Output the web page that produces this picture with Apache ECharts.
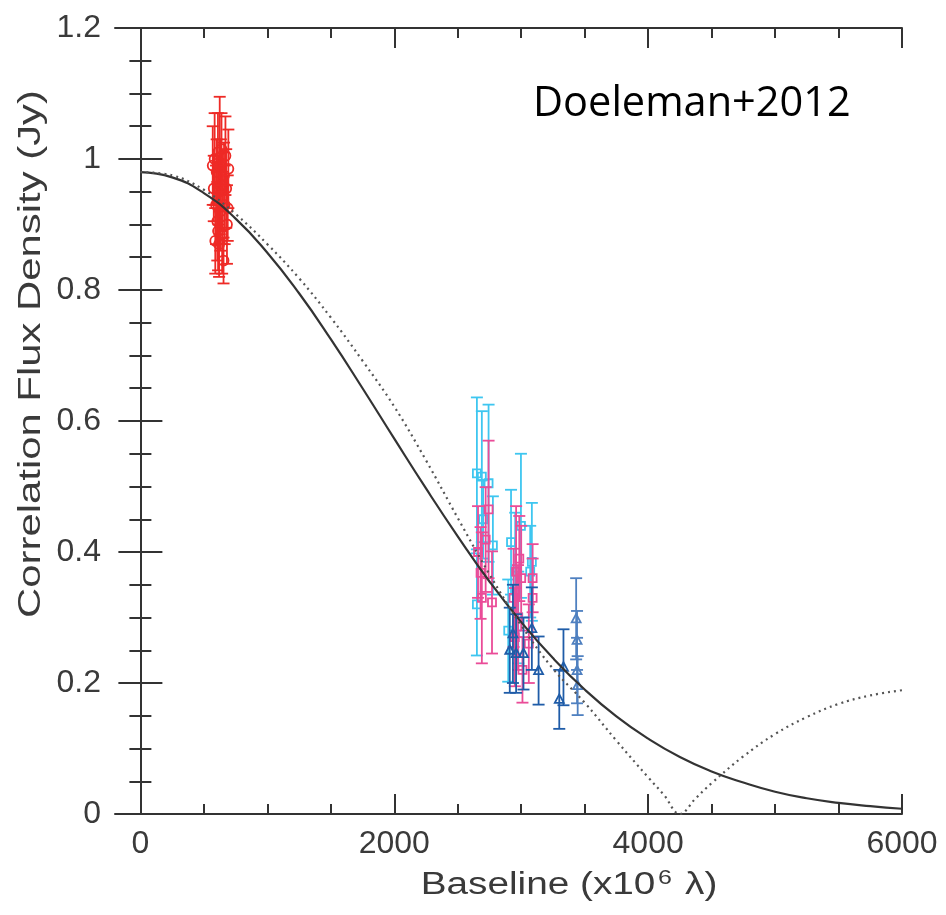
<!DOCTYPE html>
<html>
<head>
<meta charset="utf-8">
<script src="https://cdn.jsdelivr.net/npm/echarts@6/dist/echarts.min.js"></script>
<style>
  html, body { margin: 0; padding: 0; background: #fff; }
  #chart { width: 946px; height: 915px; }
</style>
</head>
<body>
<div id="chart"></div>
<script>
// Axis ticks
const xMajorTicks = [0, 2000, 4000, 6000];
const xMinorTicks = [500, 1000, 1500, 2500, 3000, 3500, 4500, 5000, 5500];

// Model curves: baseline (10^6 lambda) and correlated flux (Jy)
const gaussU = [0, 250, 500, 750, 1000, 1250, 1500, 1750, 2000, 2250, 2500, 2750, 3000,
                3250, 3500, 3750, 4000, 4250, 4500, 4750, 5000, 5250, 5500, 5750, 6000];
const gaussFlux = [0.980, 0.972, 0.948, 0.909, 0.857, 0.795, 0.725, 0.650, 0.573, 0.497, 0.424,
                   0.355, 0.293, 0.238, 0.190, 0.149, 0.115, 0.087, 0.065, 0.048, 0.034, 0.024,
                   0.017, 0.012, 0.008];
const ringU = [0, 250, 500, 750, 1000, 1250, 1500, 1750, 2000, 2250, 2500, 2750, 3000,
               3250, 3500, 3750, 4000, 4125, 4250, 4375, 4500, 4750, 5000, 5250, 5500, 5750, 6000];
const ringFlux = [0.980, 0.975, 0.953, 0.916, 0.870, 0.818, 0.758, 0.692, 0.622, 0.540, 0.452,
                  0.366, 0.288, 0.222, 0.170, 0.112, 0.056, 0.029, 0.000, 0.024, 0.047, 0.088,
                  0.122, 0.148, 0.168, 0.181, 0.189];

// Measurements: [baseline, flux, 1-sigma error]
const redPts = [
  [570, 0.99, 0.06], [578, 0.955, 0.05], [585, 1.0, 0.07], [590, 0.875, 0.05],
  [596, 0.93, 0.06], [601, 0.98, 0.05], [606, 0.905, 0.06], [611, 1.01, 0.06],
  [616, 0.95, 0.05], [620, 0.87, 0.05], [625, 0.99, 0.105], [630, 0.92, 0.06],
  [634, 0.96, 0.07], [639, 1.015, 0.055], [644, 0.885, 0.06], [649, 0.94, 0.07],
  [655, 0.845, 0.035], [659, 0.975, 0.05], [664, 0.93, 0.06], [670, 1.005, 0.06],
  [676, 0.955, 0.06], [682, 0.90, 0.06], [688, 0.925, 0.05], [693, 0.985, 0.06],
  [612, 0.89, 0.06]
];
const cyanPts = [
  [2651, 0.52, 0.116], [2651, 0.32, 0.078], [2690, 0.515, 0.10], [2743, 0.505, 0.12],
  [2777, 0.41, 0.075], [2898, 0.28, 0.078], [2920, 0.415, 0.08], [2953, 0.37, 0.09],
  [2998, 0.44, 0.11], [2977, 0.30, 0.07], [3071, 0.37, 0.07], [3084, 0.385, 0.09],
  [2700, 0.45, 0.06]
];
const pinkPts = [
  [2660, 0.40, 0.07], [2680, 0.368, 0.07], [2690, 0.33, 0.10], [2743, 0.465, 0.105],
  [2720, 0.419, 0.08], [2770, 0.323, 0.078], [2940, 0.33, 0.075], [2950, 0.27, 0.075],
  [2960, 0.37, 0.10], [2975, 0.30, 0.08], [2985, 0.39, 0.065], [3000, 0.36, 0.08],
  [3010, 0.22, 0.05], [3090, 0.36, 0.052], [3090, 0.33, 0.06], [3060, 0.26, 0.06]
];
const navyPts = [
  [2935, 0.275, 0.075], [2910, 0.25, 0.065], [2960, 0.245, 0.06], [3018, 0.245, 0.055],
  [3084, 0.283, 0.063], [3137, 0.219, 0.052], [3333, 0.224, 0.058], [3300, 0.175, 0.045]
];
const paleBluePts = [
  [3433, 0.298, 0.062], [3440, 0.265, 0.045], [3440, 0.219, 0.05], [3445, 0.196, 0.045]
];

const zip = (a, b) => a.map((v, i) => [v, b[i]]);

// Error bar with caps plus a hollow marker
function errorBarRenderer(color, shape, opacity) {
  return function (params, api) {
    const x = api.value(0), y = api.value(1), e = api.value(2);
    const p = api.coord([x, y]);
    const hi = api.coord([x, y + e]);
    const lo = api.coord([x, y - e]);
    const cap = 6;
    const lw = 1.8;
    const stroke = { stroke: color, lineWidth: lw, fill: null };
    const children = [
      { type: 'line', shape: { x1: p[0], y1: hi[1], x2: p[0], y2: lo[1] }, style: stroke },
      { type: 'line', shape: { x1: p[0] - cap, y1: hi[1], x2: p[0] + cap, y2: hi[1] }, style: stroke },
      { type: 'line', shape: { x1: p[0] - cap, y1: lo[1], x2: p[0] + cap, y2: lo[1] }, style: stroke }
    ];
    if (shape === 'circle') {
      children.push({ type: 'circle', shape: { cx: p[0], cy: p[1], r: 5 }, style: stroke });
    } else if (shape === 'rect') {
      children.push({ type: 'rect', shape: { x: p[0] - 4, y: p[1] - 4, width: 8, height: 8 }, style: stroke });
    } else {
      children.push({ type: 'polygon', shape: { points: [[p[0], p[1] - 5], [p[0] + 4.5, p[1] + 3.5], [p[0] - 4.5, p[1] + 3.5]] }, style: stroke });
    }
    return { type: 'group', children: children, style: { opacity: opacity } };
  };
}

function pointSeries(name, data, color, shape, opacity) {
  return {
    name: name,
    type: 'custom',
    renderItem: errorBarRenderer(color, shape, opacity),
    data: data,
    encode: { x: 0, y: [1, 2] },
    z: 2,
    silent: true
  };
}

const textColor = '#3a3a3a';
const frameColor = '#333';
const labelFont = 'Liberation Sans';

const xAxisBase = {
  type: 'value', min: -200, max: 6000,
  splitLine: { show: false },
  axisLine: { show: false }
};

const chart = echarts.init(document.getElementById('chart'), null, { renderer: 'canvas' });
chart.setOption({
  animation: false,
  backgroundColor: '#fff',
  title: {
    text: 'Doeleman+2012',
    left: 528, top: 78,
    textStyle: { fontFamily: 'Open Sans', fontSize: 41.5, fontWeight: 'normal', color: '#000' }
  },
  grid: { left: 115, right: 44, top: 28, bottom: 101, outerBoundsMode: 'none', containLabel: false },
  graphic: [
    {
      type: 'text', x: 569, y: 885, scaleX: 1.25, silent: true,
      style: {
        text: '{t|Baseline (x10}{s|6}{t| λ)}',
        align: 'center', verticalAlign: 'middle',
        textAlign: 'center', textVerticalAlign: 'middle',
        rich: {
          t: { fontFamily: labelFont, fontSize: 31, fill: textColor, color: textColor },
          s: { fontFamily: labelFont, fontSize: 20, fill: textColor, color: textColor, verticalAlign: 'top', padding: [0, 2, 14, 2] }
        }
      }
    },
    {
      type: 'text', x: 31, y: 354, rotation: Math.PI / 2, scaleX: 1.35, silent: true,
      style: {
        text: 'Correlation Flux Density (Jy)',
        align: 'center', verticalAlign: 'middle',
        textAlign: 'center', textVerticalAlign: 'middle',
        fontFamily: labelFont, fontSize: 31, fill: textColor
      }
    }
  ],
  xAxis: [
    Object.assign({}, xAxisBase, {
      position: 'bottom',
      axisLine: { show: true, lineStyle: { color: frameColor, width: 2 } },
      axisTick: { inside: true, length: 20, customValues: xMajorTicks, lineStyle: { color: frameColor, width: 2 } },
      axisLabel: {
        customValues: xMajorTicks, margin: 14, color: textColor, fontFamily: labelFont, fontSize: 32,
        formatter: v => String(v)
      }
    }),
    Object.assign({}, xAxisBase, {
      position: 'bottom',
      axisTick: { inside: true, length: 10, customValues: xMinorTicks, lineStyle: { color: frameColor, width: 2 } },
      axisLabel: { show: false }
    }),
    Object.assign({}, xAxisBase, {
      position: 'top',
      axisLine: { show: true, lineStyle: { color: frameColor, width: 2 } },
      axisTick: { inside: true, length: 20, customValues: xMajorTicks, lineStyle: { color: frameColor, width: 2 } },
      axisLabel: { show: false }
    }),
    Object.assign({}, xAxisBase, {
      position: 'top',
      axisTick: { inside: true, length: 10, customValues: xMinorTicks, lineStyle: { color: frameColor, width: 2 } },
      axisLabel: { show: false }
    })
  ],
  yAxis: [
    {
      type: 'value', min: 0, max: 1.2, interval: 0.2, position: 'left',
      splitLine: { show: false },
      axisLine: { show: true, lineStyle: { color: frameColor, width: 2 } },
      axisTick: { inside: true, length: 22, lineStyle: { color: frameColor, width: 2 } },
      minorTick: { show: true, splitNumber: 4, length: 11, lineStyle: { color: frameColor, width: 2 } },
      axisLabel: { margin: 14, color: textColor, fontFamily: labelFont, fontSize: 32 }
    },
    {
      type: 'value', min: 0, max: 1.2, interval: 0.2, position: 'right',
      splitLine: { show: false },
      axisLine: { show: true, lineStyle: { color: frameColor, width: 2 } },
      axisTick: { inside: true, length: 22, lineStyle: { color: frameColor, width: 2 } },
      minorTick: { show: true, splitNumber: 4, length: 11, lineStyle: { color: frameColor, width: 2 } },
      axisLabel: { show: false }
    }
  ],
  series: [
    pointSeries('APEX-SMA', redPts, '#ee2a26', 'circle', 1),
    pointSeries('CARMA-SMT', cyanPts, '#3ec6f0', 'rect', 1),
    pointSeries('CARMA-SMT 2', pinkPts, '#ea4c98', 'rect', 1),
    pointSeries('JCMT-SMT', navyPts, '#1f5ca8', 'triangle', 1),
    pointSeries('JCMT-SMT 2', paleBluePts, '#4f80c0', 'triangle', 0.7),
    {
      name: 'Gaussian', type: 'line', data: zip(gaussU, gaussFlux), smooth: true,
      showSymbol: false, symbol: 'none', z: 5, silent: true,
      lineStyle: { color: '#333', width: 2.2 }
    },
    {
      name: 'Ring', type: 'line', data: zip(ringU, ringFlux), smooth: 0.4,
      showSymbol: false, symbol: 'none', z: 5, silent: true,
      lineStyle: { color: '#555', width: 2.2, type: [2, 4] }
    }
  ]
});
</script>
</body>
</html>
